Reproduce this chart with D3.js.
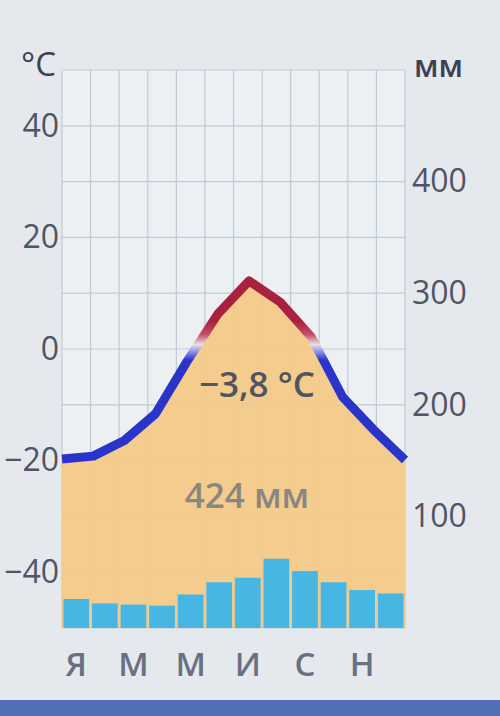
<!DOCTYPE html>
<html>
<head>
<meta charset="utf-8">
<script src="https://cdnjs.cloudflare.com/ajax/libs/d3/7.8.5/d3.min.js"></script>
<style>
  body { margin: 0; background: #e5e9ed; }
  svg { display: block; font-family: "Open Sans", sans-serif; }
</style>
</head>
<body>
<svg width="500" height="716"></svg>
<script>
// data
var months = ["Я", "Ф", "М", "А", "М", "И", "И", "А", "С", "О", "Н", "Д"];
var monthLabels = ["Я", "", "М", "", "М", "", "И", "", "С", "", "Н", ""];
var temperature = [-19.7, -19.2, -16.4, -11.6, -2.3, 6.3, 12.2, 8.4, 2.1, -8.6, -14.5, -19.9];
var precipitation = [26, 22, 21, 20, 30, 41, 45, 62, 51, 41, 34, 31];
var tempTicks = [40, 20, 0, -20, -40];
var precTicks = [100, 200, 300, 400];
var tempLabel = "−3,8 °C";
var precLabel = "424 мм";

var svg = d3.select("svg"),
  width = +svg.attr("width"),
  height = +svg.attr("height");

var margin = { top: 70, right: 95, bottom: 88, left: 62 };
var x0 = margin.left, x1 = width - margin.right,
  y0 = margin.top, y1 = height - margin.bottom;

var xBand = d3.scaleBand().domain(d3.range(12)).range([x0, x1]).paddingInner(0.1).paddingOuter(0.05);
var xCol = d3.scaleBand().domain(d3.range(12)).range([x0, x1]);
var xPoint = d3.scalePoint().domain(d3.range(12)).range([x0, x1]);
var yTemp = d3.scaleLinear().domain([-50, 50]).range([y1, y0]);
var yPrec = d3.scaleLinear().domain([0, 500]).range([y1, y0]);

// plot background
svg.append("rect")
  .attr("x", x0).attr("y", y0)
  .attr("width", x1 - x0).attr("height", y1 - y0)
  .attr("fill", "#edf0f3");

// grid
var grid = svg.append("g").attr("stroke", "#bccbd9").attr("stroke-width", 1.2);
grid.selectAll("line.h")
  .data(d3.range(-50, 51, 10))
  .enter().append("line")
  .attr("x1", x0).attr("x2", x1)
  .attr("y1", d => yTemp(d)).attr("y2", d => yTemp(d));
grid.selectAll("line.v")
  .data(d3.range(13))
  .enter().append("line")
  .attr("x1", d => x0 + d * xCol.bandwidth()).attr("x2", d => x0 + d * xCol.bandwidth())
  .attr("y1", y0).attr("y2", y1);

// area under temperature curve
var area = d3.area()
  .x((d, i) => xPoint(i))
  .y0(y1)
  .y1(d => yTemp(d));
svg.append("path")
  .datum(temperature)
  .attr("d", area)
  .attr("fill", "#f3c985")
  .attr("opacity", 0.93);

// precipitation bars
svg.append("g")
  .selectAll("rect")
  .data(precipitation)
  .enter().append("rect")
  .attr("x", (d, i) => xBand(i))
  .attr("width", xBand.bandwidth())
  .attr("y", d => yPrec(d))
  .attr("height", d => y1 - yPrec(d))
  .attr("fill", "#47b6e3");

// temperature line, red above zero, blue below
var grad = svg.append("defs").append("linearGradient")
  .attr("id", "tgrad")
  .attr("gradientUnits", "userSpaceOnUse")
  .attr("x1", 0).attr("x2", 0)
  .attr("y1", yTemp(5)).attr("y2", yTemp(-2));
grad.append("stop").attr("offset", 0).attr("stop-color", "#a8213e");
grad.append("stop").attr("offset", 0.35).attr("stop-color", "#c4506a");
grad.append("stop").attr("offset", 0.6).attr("stop-color", "#ecdde6");
grad.append("stop").attr("offset", 0.78).attr("stop-color", "#8c95e6");
grad.append("stop").attr("offset", 1).attr("stop-color", "#2b34c9");

var line = d3.line()
  .x((d, i) => xPoint(i))
  .y(d => yTemp(d));
svg.append("path")
  .datum(temperature)
  .attr("d", line)
  .attr("fill", "none")
  .attr("stroke", "url(#tgrad)")
  .attr("stroke-width", 9)
  .attr("stroke-linejoin", "round");

// axes labels
var axisL = svg.append("g").attr("transform", "translate(" + (x0 - 3) + ",0)")
  .call(d3.axisLeft(yTemp).tickValues(tempTicks).tickSize(0).tickPadding(0)
    .tickFormat(d => (d < 0 ? "−" + Math.abs(d) : d)));
var axisR = svg.append("g").attr("transform", "translate(" + (x1 + 7) + ",0)")
  .call(d3.axisRight(yPrec).tickValues(precTicks).tickSize(0).tickPadding(0));
[axisL, axisR].forEach(function (a) {
  a.select(".domain").remove();
  a.selectAll("text")
    .attr("font-size", 32)
    .attr("font-family", "Open Sans")
    .attr("fill", "#4f5566");
});

svg.append("text")
  .attr("x", x0 - 6).attr("y", 76)
  .attr("text-anchor", "end")
  .attr("font-size", 33)
  .attr("fill", "#3c4253")
  .text("°C");
svg.append("text")
  .attr("x", x1 + 9).attr("y", 77)
  .attr("font-size", 31)
  .attr("font-weight", 600)
  .attr("fill", "#3c4253")
  .text("мм");

// month labels
svg.append("g")
  .selectAll("text")
  .data(monthLabels)
  .enter().append("text")
  .attr("x", (d, i) => xCol(i) + xCol.bandwidth() / 2)
  .attr("y", 676)
  .attr("text-anchor", "middle")
  .attr("font-size", 33)
  .attr("font-weight", 600)
  .attr("fill", "#6a7083")
  .text(d => d);

// mean values
svg.append("text")
  .attr("x", 257).attr("y", 397)
  .attr("text-anchor", "middle")
  .attr("font-size", 35)
  .attr("font-weight", 600)
  .attr("fill", "#50555f")
  .text(tempLabel);
svg.append("text")
  .attr("x", 247).attr("y", 508)
  .attr("text-anchor", "middle")
  .attr("font-size", 35)
  .attr("font-weight", 600)
  .attr("fill", "#8a8780")
  .text(precLabel);

// bottom band
svg.append("rect")
  .attr("x", 0).attr("y", 700)
  .attr("width", width).attr("height", height - 700)
  .attr("fill", "#5170b6");
</script>
</body>
</html>
